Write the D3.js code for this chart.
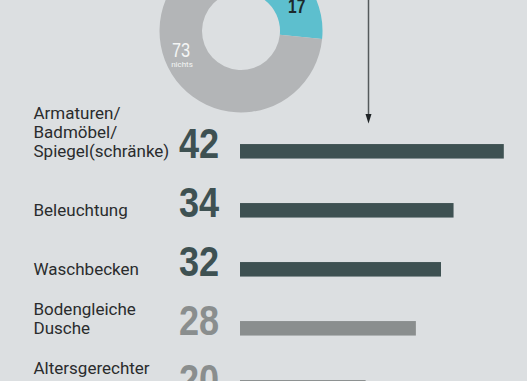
<!DOCTYPE html>
<html>
<head>
<meta charset="utf-8">
<script src="https://cdn.jsdelivr.net/npm/d3@7"></script>
<style>
  html, body { margin: 0; padding: 0; background: #dcdfe1; }
  svg { display: block; }
</style>
</head>
<body>
<div id="chart"></div>
<script>
// Chart size
const width = 527,
      height = 381;

// Bar data
const categories = ["Armaturen/Badmöbel/Spiegel(schränke)", "Beleuchtung", "Waschbecken", "Bodengleiche Dusche", "Altersgerechter"];
// last label runs over two lines, the second one is cut off by the picture edge
const labelLines = [["Armaturen/", "Badmöbel/", "Spiegel(schränke)"], ["Beleuchtung"], ["Waschbecken"], ["Bodengleiche", "Dusche"], ["Altersgerechter", ""]];
const values = [42, 34, 32, 28, 20];
const groups = ["top", "top", "top", "rest", "rest"];

// Donut data (first slice is cut off at the top of the picture)
const donutValues = [10, 17, 73];
const donutLabels = ["", "", "nichts"];

const svg = d3.select("#chart").append("svg")
    .attr("width", width)
    .attr("height", height);

// Background
svg.append("rect")
    .attr("width", width)
    .attr("height", height)
    .style("fill", "#dcdfe1");

// Colours
const barColor = d3.scaleOrdinal()
    .domain(["top", "rest"])
    .range(["#3e5152", "#8a8e8e"]);
const donutColor = d3.scaleOrdinal()
    .domain([0, 1, 2])
    .range(["#3e5152", "#5dbfce", "#b3b5b7"]);

// ---- Donut ----
const cx = 241, cy = 31;
const innerR = 39, outerR = 81.5;

const pie = d3.pie()
    .sort(null)
    .startAngle(-1.5 * Math.PI / 180)
    .endAngle(2 * Math.PI - 1.5 * Math.PI / 180);

const arc = d3.arc()
    .innerRadius(innerR)
    .outerRadius(outerR);

const donut = svg.append("g")
    .attr("transform", `translate(${cx},${cy})`);

const slices = pie(donutValues);

donut.selectAll("path")
    .data(slices)
    .enter().append("path")
    .attr("d", arc)
    .style("fill", (d, i) => donutColor(i));

// value label of the teal slice, at the arc centroid
const c17 = arc.centroid(slices[1]);
donut.append("text")
    .attr("transform", `translate(${c17[0] + 1},${c17[1] + 7}) scale(0.8,1)`)
    .attr("text-anchor", "middle")
    .style("font-family", "'Liberation Sans Narrow', 'Liberation Sans', sans-serif")
    .style("font-weight", "bold")
    .style("font-size", "19.5px")
    .style("fill", "#1c2a2d")
    .text(donutValues[1]);

// label of the grey slice
donut.append("text")
    .attr("transform", `translate(${-60},${25.5}) scale(0.84,1)`)
    .attr("text-anchor", "middle")
    .style("font-family", "'Liberation Sans Narrow', 'Liberation Sans', sans-serif")
    .style("font-size", "19.5px")
    .style("fill", "#f4f5f5")
    .text(donutValues[2]);

donut.append("text")
    .attr("x", -59)
    .attr("y", 36)
    .attr("text-anchor", "middle")
    .style("font-family", "Roboto, sans-serif")
    .style("font-size", "8px")
    .style("fill", "#f4f5f5")
    .text(donutLabels[2]);

// ---- Arrow ----
svg.append("line")
    .attr("x1", 368.5)
    .attr("x2", 368.5)
    .attr("y1", 0)
    .attr("y2", 115)
    .style("stroke", "#555a5c")
    .style("stroke-width", 1.5);

svg.append("path")
    .attr("d", "M365.5,114 L371.5,114 L368.5,123.5 Z")
    .style("fill", "#1f2426");

// ---- Bars ----
const x = d3.scaleLinear()
    .domain([0, 42])
    .range([240, 503.8]);

const y = d3.scalePoint()
    .domain(categories)
    .range([151.3, 387.3]);

const barHeight = 14.5;

svg.selectAll(".bar")
    .data(values)
    .enter().append("rect")
    .attr("class", "bar")
    .attr("x", x(0))
    .attr("y", (d, i) => y(categories[i]) - barHeight / 2)
    .attr("width", d => x(d) - x(0))
    .attr("height", barHeight)
    .style("fill", (d, i) => barColor(groups[i]));

// big numbers
svg.selectAll(".num")
    .data(values)
    .enter().append("text")
    .attr("class", "num")
    .attr("transform", (d, i) => `translate(179,${y(categories[i]) + 7}) scale(0.86,1)`)
    .style("font-family", "'Liberation Sans Narrow', 'Liberation Sans', sans-serif")
    .style("font-weight", "bold")
    .style("font-size", "42px")
    .style("fill", (d, i) => barColor(groups[i]))
    .text(d => d);

// category labels
const lineHeight = 19.4;
labelLines.forEach((lines, i) => {
    const last = y(categories[i]) + 6;
    const t = svg.append("text")
        .attr("class", "label")
        .style("font-family", "Roboto, sans-serif")
        .style("font-size", "17px")
        .style("fill", "#2a2c2d");
    lines.forEach((line, j) => {
        if (!line) return;
        t.append("tspan")
            .attr("x", 33.5)
            .attr("y", last - (lines.length - 1 - j) * lineHeight)
            .text(line);
    });
});
</script>
</body>
</html>
